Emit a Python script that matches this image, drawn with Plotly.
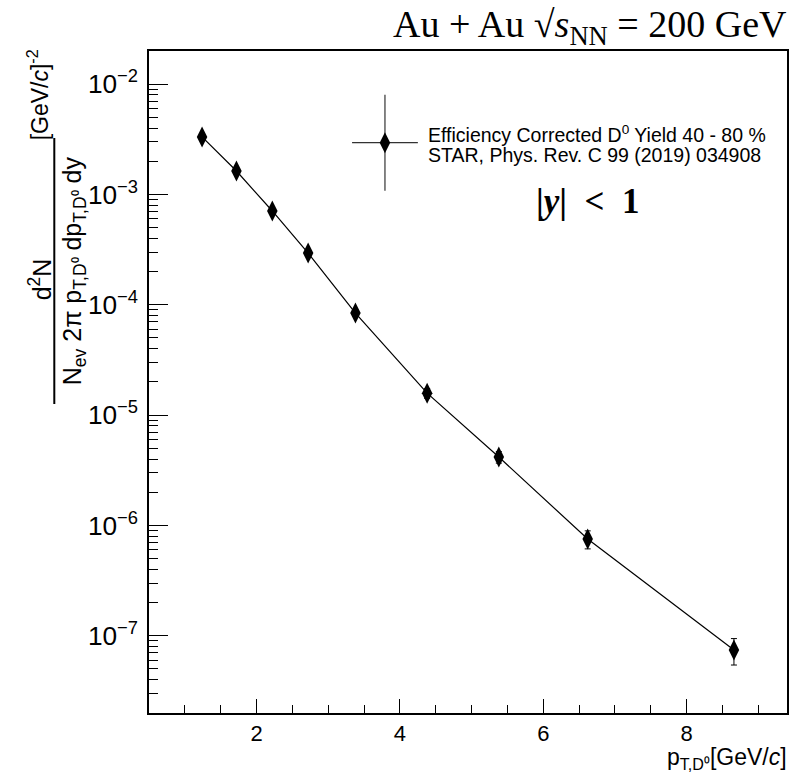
import plotly.graph_objects as go

# ---------------- data ----------------
pt = [1.24, 1.72, 2.22, 2.72, 3.38, 4.38, 5.38, 6.62, 8.66]
yield_d0 = [3.32e-3, 1.63e-3, 7.08e-4, 2.94e-4, 8.4e-5, 1.58e-5, 4.17e-6, 7.53e-7, 7.43e-8]
yield_err = [1.5e-4, 7.5e-5, 3.5e-5, 1.6e-5, 5.5e-6, 1.6e-6, 5.0e-7, 1.4e-7, 2.0e-8]
x_ticks = [2, 4, 6, 8]

# ---------------- geometry (pixels) ----------------
W, H = 795, 781
L, R, T, B = 149, 789, 51, 713


def px(x):
    return (x - L) / (R - L)


def py(y):
    return (B - y) / (B - T)


SANS = "Liberation Sans"
SERIF = "Liberation Serif"

fig = go.Figure()

fig.add_trace(go.Scatter(
    x=pt, y=yield_d0,
    mode="lines+markers",
    line=dict(color="black", width=1.2),
    marker=dict(symbol="diamond-tall", size=15, color="black"),
    error_y=dict(type="data", array=yield_err, color="black", thickness=1, width=3),
    showlegend=False,
))

# legend sample (pixel-space overlay axes)
fig.add_trace(go.Scatter(
    x=[385.7], y=[142.7], xaxis="x2", yaxis="y2",
    mode="markers",
    marker=dict(symbol="diamond-tall", size=15, color="black"),
    error_x=dict(type="data", array=[33], color="#333", thickness=1.2, width=0),
    error_y=dict(type="data", array=[48], arrayminus=[48], color="#333", thickness=1.2, width=0),
    showlegend=False,
))


def ann(text, x, y, size, family=SANS, xanchor="center", angle=0):
    return dict(text=text, x=px(x), y=py(y), xref="paper", yref="paper",
                xanchor=xanchor, yanchor="middle", showarrow=False, textangle=angle,
                font=dict(family=family, size=size, color="black"))


annotations = [
    ann("Au + Au √<i>s</i><sub>NN</sub> = 200 GeV", 791, 27, 38, SERIF, "right"),
    ann("Efficiency Corrected D<sup>0</sup> Yield 40 - 80 %", 427, 134, 19.5, SANS, "left"),
    ann("STAR, Phys. Rev. C 99 (2019) 034908", 427, 155, 19.5, SANS, "left"),
    ann("<b>|<i>y</i>|&nbsp;&nbsp;&lt;&nbsp;&nbsp;1</b>", 589, 201, 35, SERIF),
    ann("p<sub>T,D⁰</sub>[GeV/<i>c</i>]", 791, 758, 23, SANS, "right"),
    ann("d<sup>2</sup>N", 40, 279, 25, SANS, "center", -90),
    ann("N<sub>ev</sub> 2π p<sub>T,D⁰</sub> dp<sub>T,D⁰</sub> dy", 74, 271, 25, SANS, "center", -90),
    ann("[GeV/<i>c</i>]<sup>-2</sup>", 38, 95, 23, SANS, "center", -90),
]

shapes = [
    dict(type="line", xref="paper", yref="paper", x0=px(54), x1=px(54), y0=py(138), y1=py(404),
         line=dict(color="black", width=2)),
]

fig.update_layout(
    width=W, height=H,
    margin=dict(l=L, r=W - R, t=T, b=H - B, pad=0),
    paper_bgcolor="white", plot_bgcolor="white",
    font=dict(family=SANS, color="black"),
    annotations=annotations,
    shapes=shapes,
    xaxis=dict(
        range=[0.5, 9.4], tickvals=x_ticks, ticks="inside", ticklen=14, tickwidth=1.2,
        tickcolor="black", showgrid=False, zeroline=False,
        showline=True, linecolor="black", linewidth=1.5, mirror=True,
        tickfont=dict(family=SANS, size=22),
        minor=dict(dtick=0.5, tick0=0, ticks="inside", ticklen=8, tickcolor="black", tickwidth=1, showgrid=False),
    ),
    yaxis=dict(
        type="log", range=[-7.7, -1.7], dtick=1, exponentformat="power",
        ticks="inside", ticklen=19, tickwidth=1.2, tickcolor="black",
        showgrid=False, zeroline=False,
        showline=True, linecolor="black", linewidth=1.5, mirror=True,
        tickfont=dict(family=SANS, size=21), ticklabelstandoff=5,
        minor=dict(ticks="inside", ticklen=9, tickcolor="black", tickwidth=1, showgrid=False),
    ),
    xaxis2=dict(overlaying="x", range=[L, R], visible=False),
    yaxis2=dict(overlaying="y", range=[B, T], visible=False),
)

fig.write_html("out.html")
